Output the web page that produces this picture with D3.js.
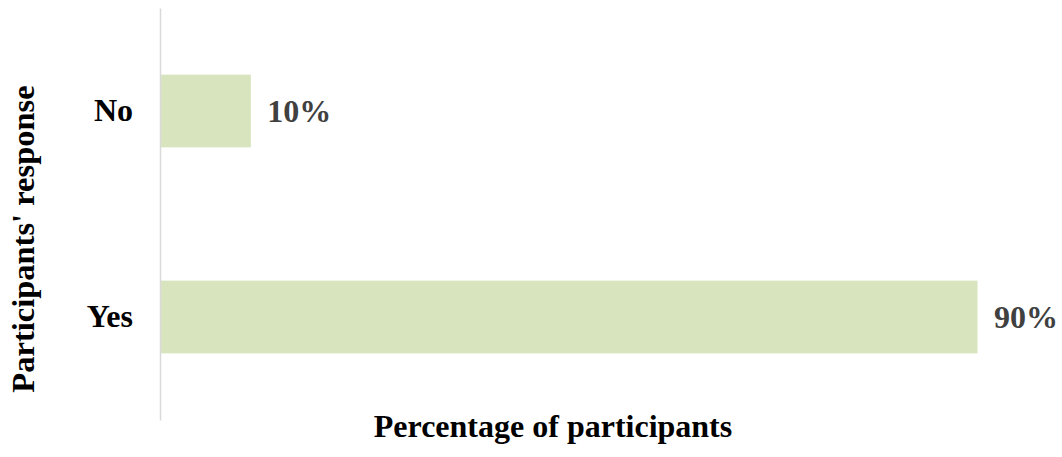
<!DOCTYPE html>
<html>
<head>
<meta charset="utf-8">
<script src="https://cdn.jsdelivr.net/npm/d3@7"></script>
<style>
  html, body { margin: 0; padding: 0; background: #fff; }
  svg { display: block; }
  text { font-family: "Liberation Serif", "Times New Roman", serif; font-weight: bold; }
</style>
</head>
<body>
<svg id="chart" width="1062" height="457"></svg>
<script>
// Survey responses (percentage of participants)
const categories = ["No", "Yes"];
const values = [10, 90];
const valueLabels = ["10%", "90%"];
const xTitle = "Percentage of participants";
const yTitle = "Participants' response";

const svg = d3.select("#chart");
const plot = { left: 160, right: 977.5, top: 8, bottom: 420 };

const x = d3.scaleLinear()
  .domain([0, d3.max(values)])
  .range([plot.left, plot.right]);

const y = d3.scaleBand()
  .domain(categories)
  .range([plot.top, plot.bottom])
  .paddingInner(0.647)
  .paddingOuter(0.3235);

// bars
svg.append("g").selectAll("rect")
  .data(categories)
  .join("rect")
  .attr("x", x(0))
  .attr("y", d => y(d))
  .attr("width", (d, i) => x(values[i]) - x(0))
  .attr("height", y.bandwidth())
  .attr("fill", "#d7e4bd");

// vertical category axis
const yAxis = d3.axisLeft(y).tickSize(0).tickPadding(27);
const gy = svg.append("g")
  .attr("transform", `translate(${plot.left},0)`)
  .call(yAxis);
gy.select(".domain").attr("stroke", "#d9d9d9").attr("stroke-width", 1.5);
gy.selectAll(".tick text")
  .attr("font-size", 32)
  .attr("font-family", "Liberation Serif, Times New Roman, serif")
  .attr("font-weight", "bold")
  .attr("fill", "#000");

// value labels
svg.append("g").selectAll("text")
  .data(categories)
  .join("text")
  .attr("x", (d, i) => x(values[i]) + 16.5)
  .attr("y", d => y(d) + y.bandwidth() / 2)
  .attr("dy", "0.35em")
  .attr("font-size", 32)
  .attr("fill", "#404040")
  .text((d, i) => valueLabels[i]);

// axis titles
svg.append("text")
  .attr("x", 553)
  .attr("y", 437)
  .attr("text-anchor", "middle")
  .attr("font-size", 32)
  .attr("fill", "#000")
  .text(xTitle);

svg.append("text")
  .attr("transform", "translate(34,239) rotate(-90)")
  .attr("text-anchor", "middle")
  .attr("font-size", 32.5)
  .attr("fill", "#000")
  .text(yTitle);
</script>
</body>
</html>
